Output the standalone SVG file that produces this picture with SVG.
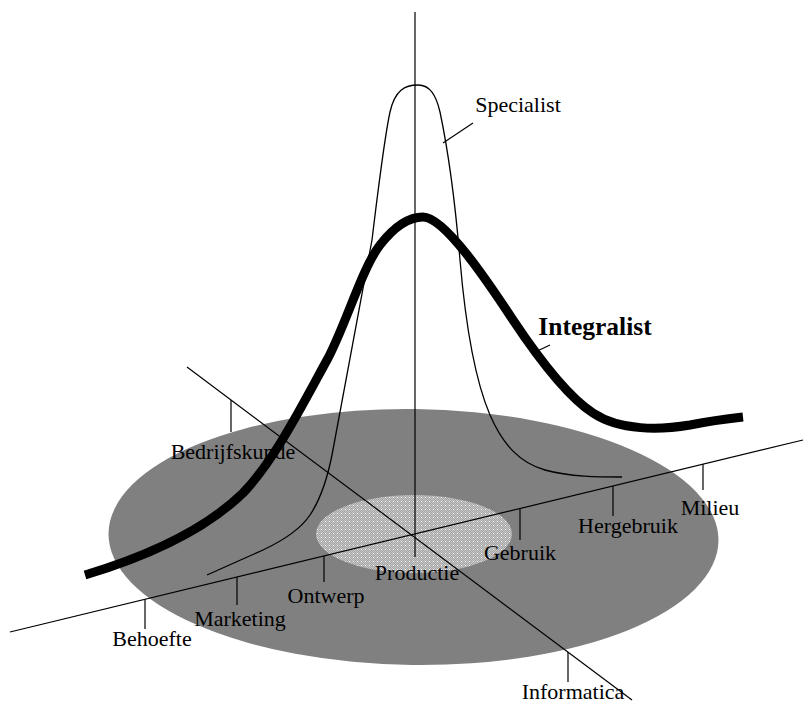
<svg xmlns="http://www.w3.org/2000/svg" width="804" height="704" viewBox="0 0 804 704">
<style>
.ax{stroke:#000;stroke-width:1.2;fill:none}
.tk{stroke:#000;stroke-width:1.2;fill:none}
.lbl{font-family:"Liberation Serif","Times New Roman",serif;font-size:22px;fill:#000;text-anchor:middle}
</style>
<defs>
<pattern id="dots" width="4" height="4" patternUnits="userSpaceOnUse">
<rect width="4" height="4" fill="#a4a4a4"/>
<rect x="0" y="0" width="1" height="1" fill="#c8c8c8"/>
<rect x="2" y="0" width="1" height="1" fill="#c8c8c8"/>
<rect x="1" y="1" width="1" height="1" fill="#c8c8c8"/>
<rect x="3" y="1" width="1" height="1" fill="#c8c8c8"/>
<rect x="0" y="2" width="1" height="1" fill="#c8c8c8"/>
<rect x="2" y="2" width="1" height="1" fill="#c8c8c8"/>
<rect x="1" y="3" width="1" height="1" fill="#c8c8c8"/>
<rect x="3" y="3" width="1" height="1" fill="#c8c8c8"/>
<rect x="1" y="1" width="1" height="1" fill="#ffffff"/>
</pattern>
</defs>
<rect width="804" height="704" fill="#ffffff"/>
<g id="discs">
<ellipse id="outer-disc" cx="413.5" cy="537" rx="305" ry="128" fill="#808080" transform="rotate(0.7 413.5 537)"/>
<ellipse id="inner-disc" cx="414" cy="534" rx="98" ry="39" fill="url(#dots)"/>
</g>
<g id="axes">
<line class="ax" x1="415" y1="12" x2="415" y2="557"/>
<line class="ax" x1="187" y1="367" x2="632" y2="700"/>
<line class="ax" x1="10" y1="632" x2="803" y2="440"/>
<line class="tk" x1="145" y1="599" x2="145" y2="629"/>
<line class="tk" x1="237" y1="577" x2="237" y2="605"/>
<line class="tk" x1="324" y1="556" x2="324" y2="582"/>
<line class="tk" x1="520" y1="509" x2="520" y2="540"/>
<line class="tk" x1="613" y1="486" x2="613" y2="516"/>
<line class="tk" x1="703" y1="464" x2="703" y2="490"/>
<line class="tk" x1="231" y1="400" x2="231" y2="432"/>
<line class="tk" x1="568" y1="652" x2="568" y2="682"/>
</g>
<g id="specialist-curve">
<path d="M207,575 L263,550 C280,542 300,530 310,515 C322,497 328,475 332,455 C340,410 365,280 372,240 C378,190 384,140 390,112 C395,90 405,85 418,85 C430,85 436,95 440,112 C448,150 455,200 460,260 C466,330 475,380 490,415 C503,445 520,463 545,470 C570,477 600,477 622,477" fill="none" stroke="#000" stroke-width="1.3"/>
<line x1="473" y1="123" x2="443" y2="143" stroke="#000" stroke-width="1.2"/>
</g>
<g id="integralist-curve">
<path d="M85,575 C145,557 205,530 243,493 C275,460 305,400 327,360 C345,327 362,268 380,245 C394,227 408,217 423,217 C445,217 490,285 513,320 C533,350 565,395 593,413 C620,431 660,430 690,425 C710,421 725,419 743,417" fill="none" stroke="#000" stroke-width="9"/>
<line x1="550" y1="345" x2="533" y2="353" stroke="#000" stroke-width="1.2"/>
</g>
<g id="labels">
<text class="lbl" x="518" y="112">Specialist</text>
<text x="595" y="335" font-family="'Liberation Serif','Times New Roman',serif" font-size="25.5" font-weight="bold" text-anchor="middle">Integralist</text>
<text class="lbl" x="233" y="459">Bedrijfskunde</text>
<text class="lbl" x="152" y="646">Behoefte</text>
<text class="lbl" x="240" y="626">Marketing</text>
<text class="lbl" x="326" y="603">Ontwerp</text>
<text class="lbl" x="417" y="580">Productie</text>
<text class="lbl" x="520" y="560">Gebruik</text>
<text class="lbl" x="628" y="533">Hergebruik</text>
<text class="lbl" x="710" y="515">Milieu</text>
<text class="lbl" x="573" y="699">Informatica</text>
</g>
</svg>
